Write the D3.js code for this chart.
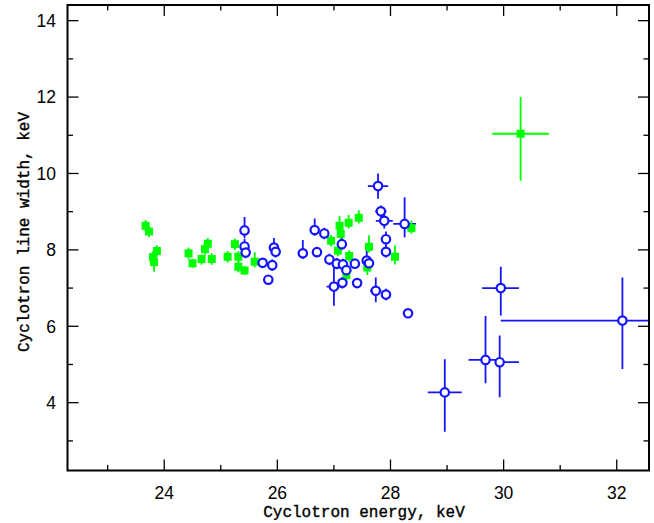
<!DOCTYPE html>
<html>
<head>
<meta charset="utf-8">
<script src="https://cdn.jsdelivr.net/npm/d3@7"></script>
<style>
  html, body { margin: 0; padding: 0; background: #fff; }
  svg { display: block; }
</style>
</head>
<body>
<svg id="chart" width="654" height="523"></svg>
<script>
// ---- data ----
// green series: [energy, width, dEnergy, dWidthUp, dWidthDown]
const greenSeries = [
  [23.67, 8.63, 0, 0.15, 0.15],
  [23.73, 8.48, 0, 0.15, 0.15],
  [23.87, 7.97, 0, 0.15, 0.15],
  [23.80, 7.81, 0, 0.15, 0.15],
  [23.82, 7.68, 0, 0.15, 0.25],
  [24.43, 7.91, 0, 0.15, 0.15],
  [24.50, 7.65, 0, 0.12, 0.12],
  [24.66, 7.76, 0, 0.12, 0.15],
  [24.72, 8.02, 0, 0.15, 0.15],
  [24.77, 8.16, 0, 0.15, 0.15],
  [24.84, 7.76, 0, 0.15, 0.15],
  [25.12, 7.82, 0, 0.15, 0.15],
  [25.25, 8.15, 0, 0.15, 0.15],
  [25.31, 7.82, 0, 0.15, 0.15],
  [25.31, 7.56, 0, 0.15, 0.15],
  [25.42, 7.46, 0, 0.12, 0.12],
  [25.60, 7.69, 0, 0.25, 0.15],
  [26.95, 8.24, 0, 0.15, 0.15],
  [27.07, 7.98, 0, 0.15, 0.15],
  [27.10, 8.63, 0, 0.25, 0.2],
  [27.12, 8.42, 0, 0.15, 0.15],
  [27.22, 7.34, 0, 0.2, 0.2],
  [27.26, 8.71, 0, 0.2, 0.15],
  [27.27, 7.84, 0, 0.15, 0.15],
  [27.44, 8.84, 0, 0.2, 0.15],
  [27.59, 7.54, 0, 0.2, 0.2],
  [27.62, 8.08, 0, 0.3, 0.15],
  [28.08, 7.82, 0, 0.3, 0.2],
  [28.37, 8.57, 0, 0.2, 0.15],
  [30.30, 11.04, 0.5, 0.96, 1.23]
];
// blue series: [energy, width, dELow, dEHigh, dWUp, dWDown]
const blueSeries = [
  [25.42, 8.51, 0.05, 0.05, 0.35, 0.2],
  [25.42, 8.09, 0.05, 0.05, 0.2, 0.2],
  [25.44, 7.93, 0.05, 0.05, 0.15, 0.15],
  [25.74, 7.66, 0.05, 0.05, 0.12, 0.12],
  [25.91, 7.60, 0.05, 0.05, 0.15, 0.15],
  [25.94, 8.06, 0.05, 0.05, 0.25, 0.15],
  [25.97, 7.95, 0.05, 0.05, 0.15, 0.15],
  [25.84, 7.22, 0.05, 0.05, 0.1, 0.1],
  [26.45, 7.91, 0.05, 0.05, 0.35, 0.15],
  [26.66, 8.52, 0.05, 0.05, 0.3, 0.15],
  [26.70, 7.94, 0.05, 0.05, 0.1, 0.1],
  [26.83, 8.43, 0.05, 0.05, 0.15, 0.15],
  [26.92, 7.75, 0.05, 0.05, 0.15, 0.15],
  [27.05, 7.64, 0.05, 0.05, 0.15, 0.15],
  [27.14, 8.15, 0.05, 0.05, 0.3, 0.15],
  [27.16, 7.62, 0.05, 0.05, 0.15, 0.15],
  [27.22, 7.47, 0.05, 0.05, 0.15, 0.15],
  [27.37, 7.64, 0.05, 0.05, 0.12, 0.12],
  [27.58, 7.72, 0.05, 0.05, 0.25, 0.15],
  [27.62, 7.65, 0.05, 0.05, 0.15, 0.15],
  [27.00, 7.04, 0.13, 0.13, 0.5, 0.5],
  [27.15, 7.14, 0.05, 0.05, 0.15, 0.15],
  [27.41, 7.13, 0.05, 0.05, 0.1, 0.1],
  [27.74, 6.93, 0.1, 0.1, 0.35, 0.3],
  [27.92, 6.83, 0.05, 0.05, 0.15, 0.15],
  [27.78, 9.67, 0.18, 0.18, 0.33, 0.33],
  [27.83, 9.01, 0.1, 0.1, 0.15, 0.15],
  [27.89, 8.76, 0.15, 0.15, 0.3, 0.2],
  [27.92, 8.28, 0.05, 0.05, 0.2, 0.2],
  [27.92, 7.95, 0.05, 0.05, 0.15, 0.15],
  [28.25, 8.68, 0.2, 0.2, 0.7, 0.35],
  [28.31, 6.34, 0, 0, 0, 0],
  [29.95, 7.00, 0.33, 0.32, 0.56, 0.72],
  [32.10, 6.15, 2.15, 1.0, 1.13, 1.27],
  [29.68, 5.12, 0.3, 0.25, 1.15, 0.61],
  [29.93, 5.06, 0.05, 0.34, 0.7, 0.92],
  [28.96, 4.27, 0.3, 0.3, 0.87, 1.03]
];
const xMajorTicks = [24, 26, 28, 30, 32];
const xMinorTicks = [23, 25, 27, 29, 31];
const yMajorTicks = [4, 6, 8, 10, 12, 14];
const yMinorTicks = [3, 5, 7, 9, 11, 13];
const xTitle = "Cyclotron energy, keV";
const yTitle = "Cyclotron line width, keV";

// ---- layout ----
const L = 67.5, R = 649, T = 5, B = 470.5;
const x = d3.scaleLinear().domain([22.29, 32.57]).range([L, R]);
const y = d3.scaleLinear().domain([2.225, 14.41]).range([B, T]);

const svg = d3.select("#chart");
const GREEN = "#00ff00", BLUE = "#1414ff";

svg.append("defs").append("clipPath").attr("id", "clip")
  .append("rect").attr("x", L).attr("y", T).attr("width", R - L).attr("height", B - T);

const plot = svg.append("g").attr("clip-path", "url(#clip)");

// blue error bars
const be = plot.append("g").attr("stroke", BLUE).attr("stroke-width", 1.8).attr("fill", "none");
blueSeries.forEach(d => {
  if (d[2] + d[3] > 0) be.append("line").attr("x1", x(d[0] - d[2])).attr("x2", x(d[0] + d[3])).attr("y1", y(d[1])).attr("y2", y(d[1]));
  if (d[4] + d[5] > 0) be.append("line").attr("x1", x(d[0])).attr("x2", x(d[0])).attr("y1", y(d[1] + d[4])).attr("y2", y(d[1] - d[5]));
});

// green error bars and squares
const ge = plot.append("g").attr("stroke", GREEN).attr("stroke-width", 1.8).attr("fill", "none");
greenSeries.forEach(d => {
  if (d[2] > 0) ge.append("line").attr("x1", x(d[0] - d[2])).attr("x2", x(d[0] + d[2])).attr("y1", y(d[1])).attr("y2", y(d[1]));
  ge.append("line").attr("x1", x(d[0])).attr("x2", x(d[0])).attr("y1", y(d[1] + d[3])).attr("y2", y(d[1] - d[4]));
});
plot.append("g").selectAll("rect").data(greenSeries).join("rect")
  .attr("x", d => x(d[0]) - 4).attr("y", d => y(d[1]) - 4)
  .attr("width", 8).attr("height", 8).attr("fill", GREEN);

// blue circles
plot.append("g").selectAll("circle").data(blueSeries).join("circle")
  .attr("cx", d => x(d[0])).attr("cy", d => y(d[1])).attr("r", 4.2)
  .attr("fill", "#fff").attr("stroke", BLUE).attr("stroke-width", 2.2);

// ---- frame and ticks ----
const ax = svg.append("g").attr("stroke", "#000").attr("fill", "none");
ax.append("rect").attr("x", L).attr("y", T).attr("width", R - L).attr("height", B - T).attr("stroke-width", 2);
const tk = ax.append("g").attr("stroke-width", 1.3);
const MAJ = 11, MIN = 5.5;
xMajorTicks.forEach(v => {
  tk.append("line").attr("x1", x(v)).attr("x2", x(v)).attr("y1", B).attr("y2", B - MAJ);
  tk.append("line").attr("x1", x(v)).attr("x2", x(v)).attr("y1", T).attr("y2", T + MAJ);
});
xMinorTicks.forEach(v => {
  tk.append("line").attr("x1", x(v)).attr("x2", x(v)).attr("y1", B).attr("y2", B - MIN);
  tk.append("line").attr("x1", x(v)).attr("x2", x(v)).attr("y1", T).attr("y2", T + MIN);
});
yMajorTicks.forEach(v => {
  tk.append("line").attr("x1", L).attr("x2", L + MAJ).attr("y1", y(v)).attr("y2", y(v));
  tk.append("line").attr("x1", R).attr("x2", R - MAJ).attr("y1", y(v)).attr("y2", y(v));
});
yMinorTicks.forEach(v => {
  tk.append("line").attr("x1", L).attr("x2", L + MIN).attr("y1", y(v)).attr("y2", y(v));
  tk.append("line").attr("x1", R).attr("x2", R - MIN).attr("y1", y(v)).attr("y2", y(v));
});

// ---- tick labels ----
const lab = svg.append("g").attr("font-family", "'Liberation Sans', Arial, sans-serif").attr("font-size", 17.5).attr("fill", "#000");
xMajorTicks.forEach(v => {
  lab.append("text").attr("x", x(v)).attr("y", 499).attr("text-anchor", "middle").text(v);
});
yMajorTicks.forEach(v => {
  lab.append("text").attr("x", 56).attr("y", y(v)).attr("dy", "0.36em").attr("text-anchor", "end").text(v);
});

// ---- axis titles ----
const tt = svg.append("g").attr("font-family", "'Liberation Mono', 'Courier New', monospace")
  .attr("font-size", 16).attr("fill", "#000").attr("stroke", "#000").attr("stroke-width", 0.35);
tt.append("text").attr("x", 364).attr("y", 517).attr("text-anchor", "middle").text(xTitle);
tt.append("text").attr("transform", "translate(29,232) rotate(-90)").attr("text-anchor", "middle").text(yTitle);
</script>
</body>
</html>
